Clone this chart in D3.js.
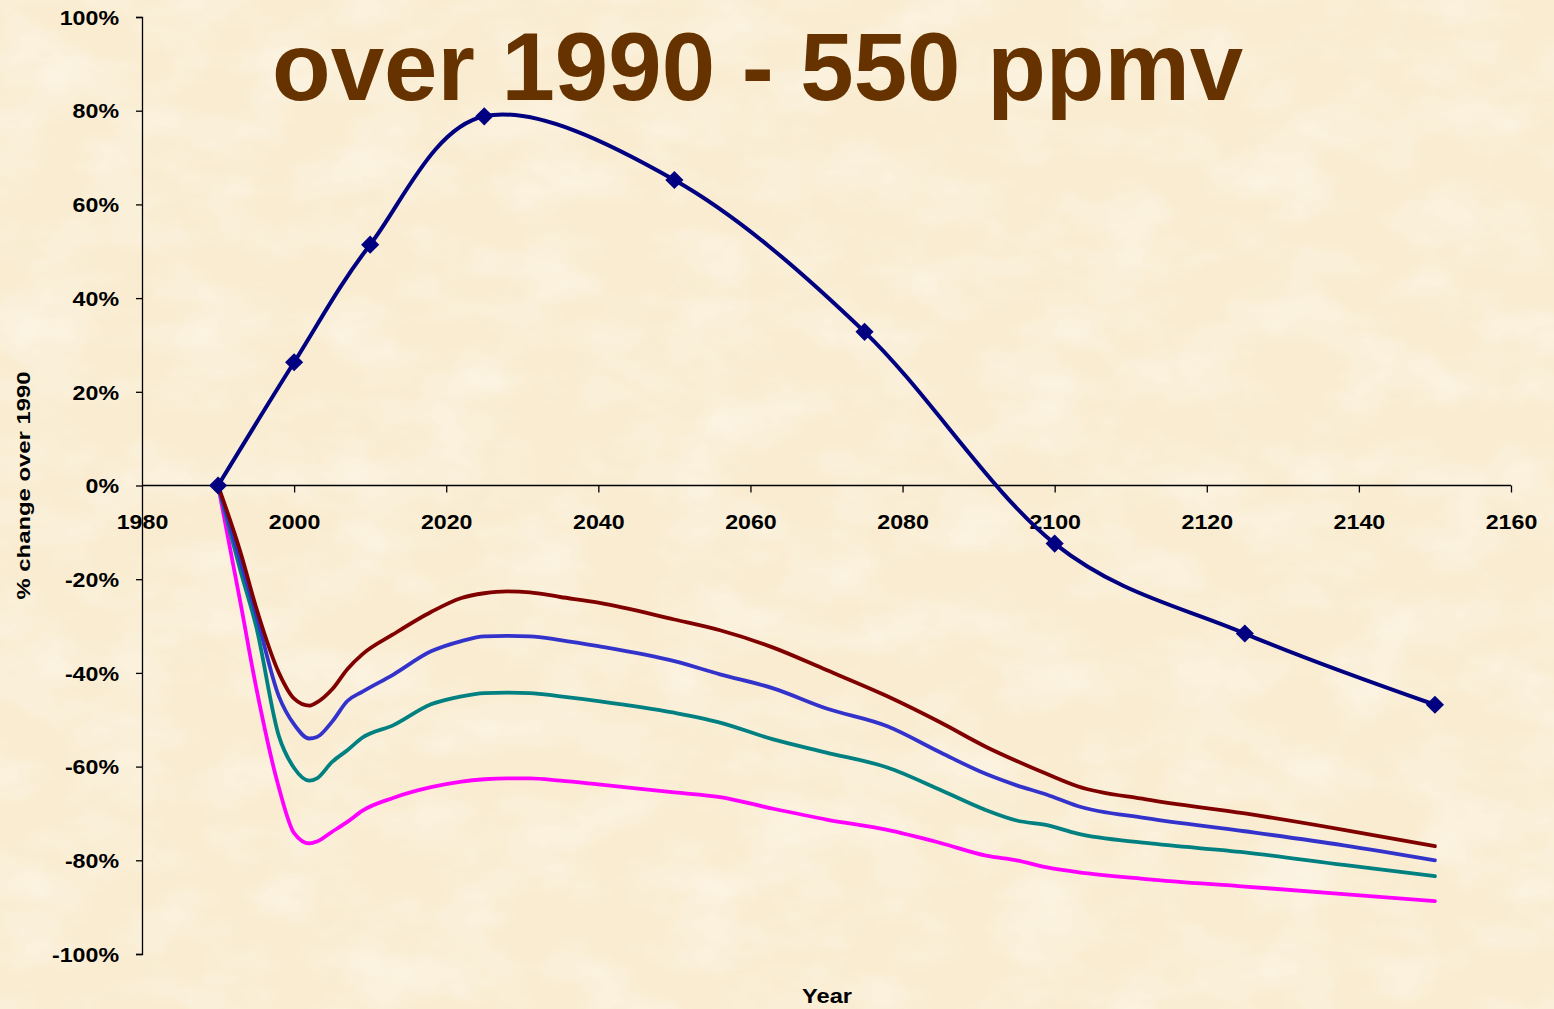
<!DOCTYPE html>
<meta charset="utf-8">
<style>
body { margin: 0; background: #faefd7; }
svg { display: block; }
.axis path, .axis line { stroke: #000; stroke-width: 1.3px; }
.axis text { font: bold 20px "Liberation Sans", Arial, sans-serif; fill: #000; }
.title { font: bold 96px "Liberation Sans", Arial, sans-serif; fill: #663300; }
.label { font: bold 20px "Liberation Sans", Arial, sans-serif; fill: #000; }
</style>
<svg width="1554" height="1009"></svg>
<script src="https://d3js.org/d3.v7.min.js"></script>
<script>

// series with diamond markers
var markerYears = [1990, 2000, 2010, 2025, 2050, 2075, 2100, 2125, 2150];
var navyValues = [0, 26.3, 51.4, 78.8, 65.2, 32.8, -12.4, -31.6, -46.8];

// the four series without markers share these years
var years = [1990, 1993, 1995, 1998, 2000, 2002, 2003, 2005, 2007, 2009, 2013, 2018, 2022, 2025, 2028, 2031,
             2035, 2040, 2050, 2056, 2063, 2070, 2078, 2085, 2091, 2095, 2099, 2103, 2112, 2125, 2138, 2150];
var brownValues = [0, -14.5, -26, -40, -45.5, -47, -46.3, -43.5, -39.2, -36, -31.8, -27, -24, -23, -22.6, -22.8,
                   -23.8, -25, -28.6, -30.9, -34.6, -39.4, -45, -50.6, -55.8, -58.8, -61.6, -64.2, -67, -70, -73.5, -77];
var blueValues = [0, -16.5, -27.5, -45, -51, -54, -53.7, -50.4, -46, -44, -40.4, -35.4, -33.2, -32.2, -32.1, -32.2,
                  -33, -34.3, -37.5, -40.3, -43.3, -47.6, -51.4, -57, -61.6, -64, -66, -68.4, -71, -73.8, -76.8, -80];
var tealValues = [0, -18.5, -30, -53.5, -60.3, -63, -62.5, -59, -56.5, -53.8, -51.2, -46.7, -45, -44.3, -44.2, -44.3,
                  -45, -46, -48.5, -50.6, -54.2, -57, -60.2, -65, -69.3, -71.5, -72.5, -74.3, -76.3, -78.3, -81, -83.4];
var magentaValues = [0, -25.5, -43, -64.5, -74.2, -76.4, -76, -73.9, -71.8, -69.4, -66.7, -64.4, -63.2, -62.7, -62.5, -62.5,
                     -63, -63.8, -65.5, -66.5, -69, -71.3, -73.5, -76.3, -79, -80, -81.5, -82.5, -84, -85.6, -87.2, -88.7];

var yTicks = [-100, -80, -60, -40, -20, 0, 20, 40, 60, 80, 100];
var xTicks = [1980, 2000, 2020, 2040, 2060, 2080, 2100, 2120, 2140, 2160];

var svg = d3.select("svg");
var stretch = 1.16; // labels in the slide are a bit wide

// parchment background
var defs = svg.append("defs");
var f = defs.append("filter").attr("id", "paper").attr("x", 0).attr("y", 0).attr("width", "100%").attr("height", "100%");
f.append("feTurbulence").attr("type", "fractalNoise").attr("baseFrequency", "0.012 0.02").attr("numOctaves", 4).attr("seed", 3);
f.append("feColorMatrix").attr("type", "matrix")
  .attr("values", "0 0 0 0 1  0 0 0 0 0.98  0 0 0 0 0.93  0.9 0 0 0 -0.35");
svg.append("rect").attr("width", 1554).attr("height", 1009).attr("fill", "#f9ecd1");
svg.append("rect").attr("width", 1554).attr("height", 1009).attr("filter", "url(#paper)");

var x = d3.scaleLinear().domain([1980, 2160]).range([142, 1511]);
var y = d3.scaleLinear().domain([-100, 100]).range([954, 17]);

// title (only the last line is inside the picture)
svg.append("text").attr("class", "title")
  .attr("x", 272).attr("y", 100)
  .text("over 1990 - 550 ppmv");

// y axis
var yAxis = svg.append("g").attr("class", "axis")
  .attr("transform", "translate(" + x(1980) + ",0)")
  .call(d3.axisLeft(y).tickValues(yTicks).tickSize(6).tickSizeOuter(6)
        .tickFormat(function(d) { return d + "%"; }));
yAxis.selectAll("text")
  .attr("x", -23 / stretch).attr("dy", "0.36em")
  .attr("transform", "scale(" + stretch + ",1)");

// x axis through 0%
var xAxis = svg.append("g").attr("class", "axis")
  .attr("transform", "translate(0," + y(0) + ")")
  .call(d3.axisBottom(x).tickValues(xTicks).tickSize(7).tickSizeOuter(0)
        .tickFormat(d3.format("d")));
xAxis.select(".domain").attr("d", "M" + x(1980) + ",0H" + x(2160));
xAxis.selectAll("text")
  .attr("y", 44).attr("dy", 0)
  .attr("transform", "scale(" + stretch + ",1)");
xAxis.selectAll(".tick").filter(function(d) { return d == 1980; }).select("line").remove();

// axis titles
svg.append("text").attr("class", "label")
  .attr("text-anchor", "middle")
  .attr("transform", "translate(30," + y(0) + ") rotate(-90)")
  .style("font-size", "19px")
  .attr("textLength", 228).attr("lengthAdjust", "spacingAndGlyphs")
  .text("% change over 1990");

svg.append("text").attr("class", "label")
  .attr("text-anchor", "middle")
  .attr("x", 827).attr("y", 1003)
  .style("font-size", "21px")
  .attr("textLength", 50).attr("lengthAdjust", "spacingAndGlyphs")
  .text("Year");

// lines
var lower = [
  { values: magentaValues, color: "#ff00ff" },
  { values: tealValues, color: "#008080" },
  { values: blueValues, color: "#3333cc" },
  { values: brownValues, color: "#800000" }
];

var lowerLine = d3.line()
  .x(function(d) { return x(d[0]); })
  .y(function(d) { return y(d[1]); })
  .curve(d3.curveMonotoneX);

svg.append("g").selectAll("path")
  .data(lower)
  .enter().append("path")
    .attr("fill", "none")
    .attr("stroke", function(d) { return d.color; })
    .attr("stroke-width", 3.8)
    .attr("stroke-linejoin", "round")
    .attr("stroke-linecap", "round")
    .attr("d", function(d) { return lowerLine(years.map(function(yr, i) { return [yr, d.values[i]]; })); });

var navy = markerYears.map(function(yr, i) { return [yr, navyValues[i]]; });

svg.append("path")
  .attr("fill", "none")
  .attr("stroke", "#000080")
  .attr("stroke-width", 4)
  .attr("stroke-linejoin", "round")
  .attr("d", d3.line()
    .x(function(d) { return x(d[0]); })
    .y(function(d) { return y(d[1]); })
    .curve(d3.curveCardinal.tension(0))(navy));

svg.append("g").selectAll("path")
  .data(navy)
  .enter().append("path")
    .attr("fill", "#000080")
    .attr("d", d3.symbol().type(d3.symbolDiamond2).size(210))
    .attr("transform", function(d) { return "translate(" + x(d[0]) + "," + y(d[1]) + ")"; });

</script>
